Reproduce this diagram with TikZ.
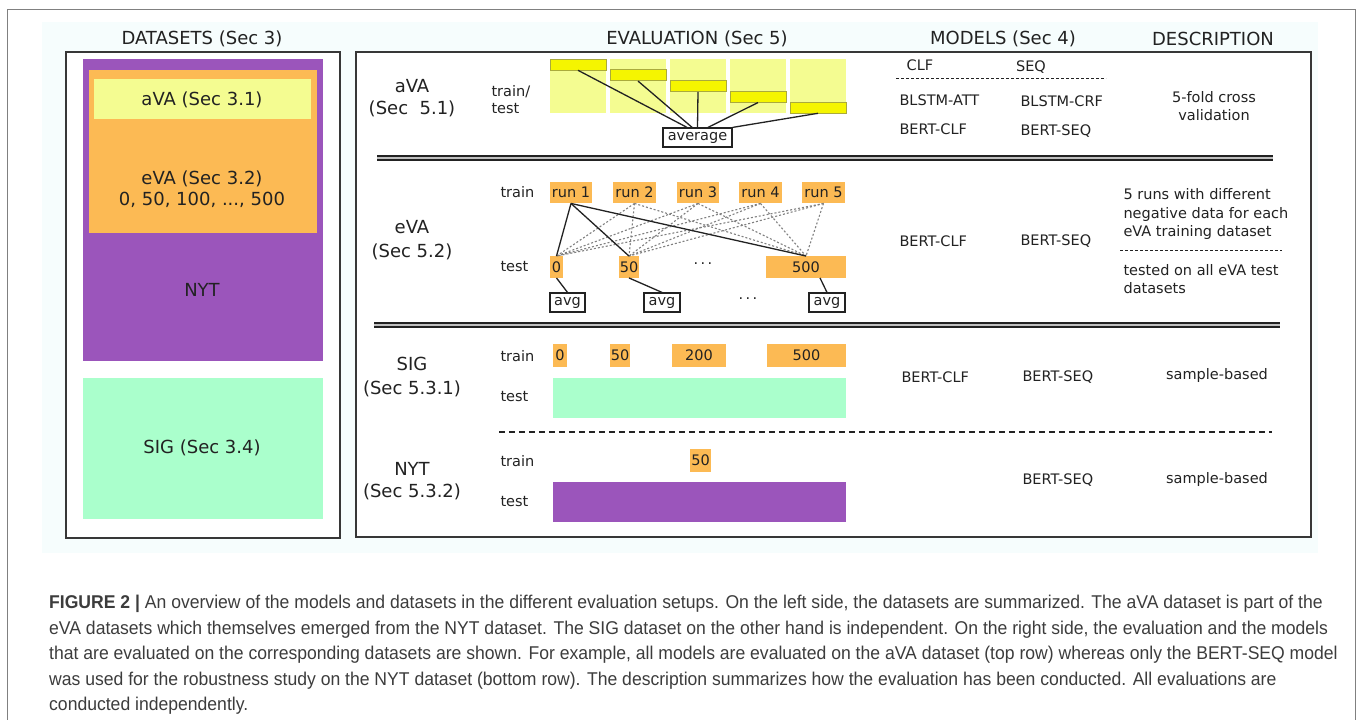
\documentclass[tikz,border=0pt]{standalone}
\usepackage{fontspec}
\setmainfont{DejaVu Sans}
\newfontfamily\capfont[FakeStretch=0.95]{Liberation Sans}
\definecolor{inkc}{RGB}{34,34,34}
\definecolor{framec}{RGB}{55,55,55}
\definecolor{bgc}{RGB}{246,253,253}
\definecolor{nytpurple}{RGB}{155,85,187}
\definecolor{evaorange}{RGB}{252,186,84}
\definecolor{avapale}{RGB}{244,252,145}
\definecolor{avabar}{RGB}{245,245,0}
\definecolor{barline}{RGB}{170,170,60}
\definecolor{siggreen}{RGB}{170,255,204}
\definecolor{capc}{RGB}{60,60,60}

\begin{document}
\begin{tikzpicture}[x=1pt,y=-1pt,
  big/.style={font=\fontsize{18}{21.5}\selectfont,text=inkc},
  sml/.style={font=\fontsize{14.5}{18.5}\selectfont,text=inkc},
  captext/.style={font=\capfont\fontsize{18.5}{20}\selectfont,text=capc,anchor=west,inner sep=0pt},
  frame/.style={draw=framec,line width=1.6pt,fill=white},
  cell/.style={sml,inner sep=0pt,minimum height=21.5pt},
  run/.style={cell,fill=evaorange},
  avgbox/.style={sml,draw=inkc,line width=1.2pt,fill=white,inner sep=0pt,minimum height=19pt},
  fold/.style={fill=avapale,inner sep=0pt,minimum width=56pt,minimum height=54pt},
  bar/.style={fill=avabar,draw=barline,line width=0.6pt,inner sep=0pt,minimum width=56pt,minimum height=11pt},
  area/.style={inner sep=0pt,minimum width=293pt,minimum height=40pt},
  link/.style={draw=inkc,line width=1.3pt},
  crossln/.style={draw=gray,line width=1.1pt,dash pattern=on 2pt off 2pt},
  dotsep/.style={draw=inkc,line width=0.8pt,dash pattern=on 3pt off 2pt},
  rowsep/.style={draw=inkc,line width=1.3pt,dash pattern=on 6pt off 4pt},
  sepline/.style={draw=inkc,double=lightgray,double distance=2.4pt,line width=1.4pt}]

\useasboundingbox (0,0) rectangle (1358,720);
\fill[bgc] (42,22) rectangle (1318,553);
\draw[gray,line width=1pt] (7,720) -- (7,9) -- (1355,9) -- (1355,720);

\node[big] (hdata) at (202,39) {DATASETS (Sec 3)};
\node[big] (heval) at (697,39) {EVALUATION (Sec 5)};
\node[big] (hmod)  at (1003,39) {MODELS (Sec 4)};
\node[big] (hdesc) at (1213,39) {DESCRIPTION};

% datasets
\draw[frame] (66,52) rectangle (340,538);
\fill[nytpurple] (83,59) rectangle (323,361);
\fill[evaorange] (89,70) rectangle (317,233);
\fill[avapale] (94,79) rectangle (311,119);
\fill[siggreen] (83,378) rectangle (323,519);
\node[big] (dava) at (202,100) {aVA (Sec 3.1)};
\node[big,align=center] (deva) at (202,189) {eVA (Sec 3.2)\\0, 50, 100, ..., 500};
\node[big] (dnyt) at (202,290) {NYT};
\node[big] (dsig) at (202,448) {SIG (Sec 3.4)};

% evaluation
\draw[frame] (356,52) rectangle (1311,537);

\node[big,align=center] (rava) at (412,98) {aVA\\(Sec~~5.1)};
\node[sml,anchor=west,align=left,font=\fontsize{14.5}{17}\selectfont] (avatt) at (488,100) {train/\\test};
\foreach \i in {0,...,4} {
  \node[fold] (f\i) at ({578+60*\i},86) {};
  \node[bar] (b\i) at ({578+60*\i},{64.5+10.75*\i}) {};
}
\node[avgbox,minimum width=69pt] (avg) at (697.5,137.5) {average};
\foreach \i/\a in {0/136,1/118,2/90,3/44}
  \draw[link] (b\i.south) -- (avg.\a);
\draw[link] (b4.south) -- (avg.north east);

\node[sml] (clf) at (920,65) {CLF};
\node[sml] (seq) at (1031,67) {SEQ};
\draw[dotsep] (896,78) -- (1106,78);
\node[sml,anchor=west] (m1) at (896,100) {BLSTM-ATT};
\node[sml,anchor=west] (m2) at (1017,101) {BLSTM-CRF};
\node[sml,anchor=west] (m3) at (896,129) {BERT-CLF};
\node[sml,anchor=west] (m4) at (1017,131) {BERT-SEQ};
\node[sml,align=center] (d1) at (1214,106) {5-fold cross\\validation};

\draw[sepline] (377,158) -- (1273,158);

\node[big,align=center] (reva) at (412,240) {eVA\\[3pt](Sec 5.2)};
\node[sml,anchor=west] (etrain) at (497,192) {train};
\node[sml,anchor=west] (etest) at (497,267) {test};
\foreach \i/\x in {1/571,2/634.5,3/698,4/760.5,5/823.5}
  \node[run,minimum width=42.5pt] (run\i) at (\x,192.5) {run \i};
\node[run,minimum width=13pt] (t0) at (556.5,267) {0};
\node[run,minimum width=20pt] (t50) at (629,267) {50};
\node[run,minimum width=80pt] (t500) at (806,267) {500};
\node[sml] (tdots) at (703,265) {\raisebox{3pt}{.\,.\,.}};
\node[avgbox,minimum width=35pt] (a0) at (567.5,302.5) {avg};
\node[avgbox,minimum width=36pt] (a50) at (662,302.5) {avg};
\node[avgbox,minimum width=36pt] (a500) at (827,302.5) {avg};
\node[sml] (adots) at (748,300) {\raisebox{3pt}{.\,.\,.}};
\foreach \r in {2,...,5}
  \foreach \t in {t0,t50,t500}
    \draw[crossln] (run\r.south) -- (\t.north);
\foreach \t in {t0,t50,t500}
  \draw[link] (run1.south) -- (\t.north);
\draw[link] (t0.south) -- (a0.north);
\draw[link] (t50.south) -- (a50.north);
\draw[link] (t500.-38) -- (a500.north);

\node[sml,anchor=west] (m5) at (896,241) {BERT-CLF};
\node[sml,anchor=west] (m6) at (1017,241) {BERT-SEQ};
\node[sml,anchor=west,align=left] (d2) at (1120,214) {5 runs with different\\negative data for each\\eVA training dataset};
\draw[dotsep] (1120,250) -- (1282,250);
\node[sml,anchor=west,align=left] (d3) at (1120,279) {tested on all eVA test\\datasets};

\draw[sepline] (374,325) -- (1280,325);

\node[big,align=center] (rsig) at (412,377) {SIG\\[3pt](Sec 5.3.1)};
\node[sml,anchor=west] (strain) at (497,356) {train};
\node[sml,anchor=west] (stest) at (497,397) {test};
\node[run,minimum width=14pt,minimum height=23pt] (s0) at (560,355.5) {0};
\node[run,minimum width=20pt,minimum height=23pt] (s50) at (620,355.5) {50};
\node[run,minimum width=54pt,minimum height=23pt] (s200) at (699,355.5) {200};
\node[run,minimum width=79pt,minimum height=23pt] (s500) at (806.5,355.5) {500};
\node[area,fill=siggreen] (sigtest) at (699.5,398) {};
\node[sml,anchor=west] (m7) at (898,377) {BERT-CLF};
\node[sml,anchor=west] (m8) at (1019,377) {BERT-SEQ};
\node[sml] (d4) at (1217,375) {sample-based};

\draw[rowsep] (499,432) -- (1272,432);

\node[big,align=center] (rnyt) at (412,481) {NYT\\(Sec 5.3.2)};
\node[sml,anchor=west] (ntrain) at (497,461) {train};
\node[sml,anchor=west] (ntest) at (497,502) {test};
\node[run,minimum width=21pt,minimum height=23pt] (n50) at (700.5,460.5) {50};
\node[area,fill=nytpurple] (nyttest) at (699.5,502) {};
\node[sml,anchor=west] (m9) at (1019,480) {BERT-SEQ};
\node[sml] (d5) at (1217,479) {sample-based};

% caption
\node[captext] (c1) at (49,604) {\textbf{FIGURE 2 |} An overview of the models and datasets in the different evaluation setups. On the left side, the datasets are summarized. The aVA dataset is part of the};
\node[captext] (c2) at (49,630) {eVA datasets which themselves emerged from the NYT dataset. The SIG dataset on the other hand is independent. On the right side, the evaluation and the models};
\node[captext] (c3) at (49,655) {that are evaluated on the corresponding datasets are shown. For example, all models are evaluated on the aVA dataset (top row) whereas only the BERT-SEQ model};
\node[captext] (c4) at (49,681) {was used for the robustness study on the NYT dataset (bottom row). The description summarizes how the evaluation has been conducted. All evaluations are};
\node[captext] (c5) at (49,706) {conducted independently.};
\end{tikzpicture}
\end{document}
